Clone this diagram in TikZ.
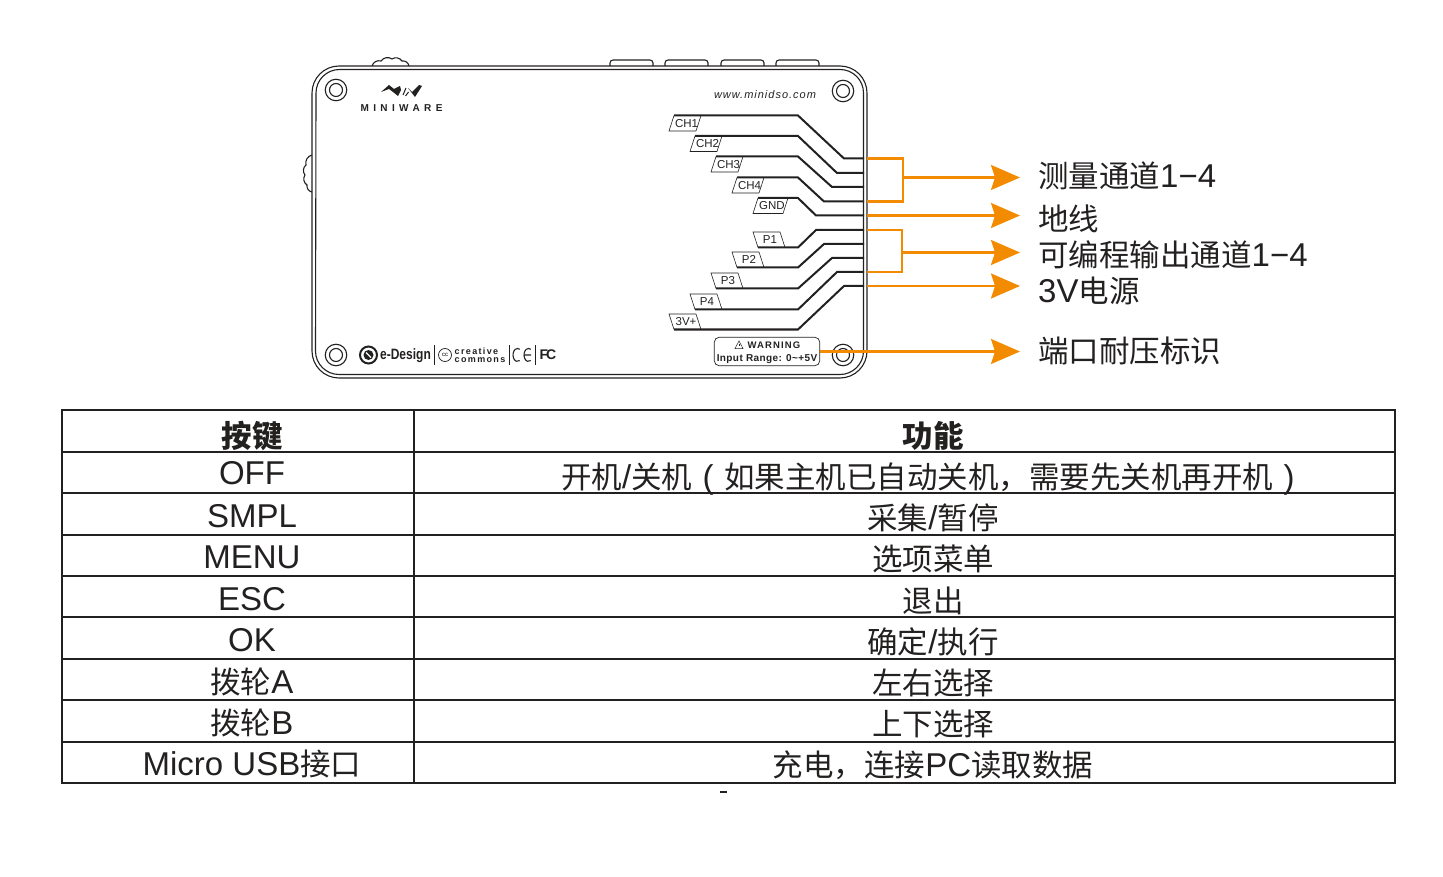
\documentclass[tikz,border=0pt]{standalone}
\usepackage{fontspec}
\setmainfont{Liberation Sans}
\newfontfamily\cjk[Scale=0.924]{Noto Sans CJK SC}
\newcommand{\zh}[1]{{\cjk #1}}
\usetikzlibrary{positioning,arrows.meta,calc}
\definecolor{arroworange}{RGB}{243,139,0}
\definecolor{inkgrey}{RGB}{35,32,32}
\begin{document}
\begin{tikzpicture}[x=1pt,y=-1pt,
    cell/.style={font=\fontsize{33}{33}\selectfont,text=inkgrey,anchor=base,inner sep=0pt},
    head/.style={font=\bfseries\fontsize{33}{33}\selectfont,text=inkgrey,anchor=base,inner sep=0pt},
    callout/.style={font=\fontsize{33}{33}\selectfont,text=inkgrey,anchor=base west,inner sep=0pt},
    tag/.style={draw=inkgrey,line width=.6pt},
    tagtext/.style={font=\fontsize{11.5}{12}\selectfont,text=inkgrey,inner sep=0pt},
    fine/.style={text=inkgrey,inner sep=0pt},
    wire/.style={draw=inkgrey,line width=2pt},
    feed/.style={draw=arroworange,line width=2.2pt},
    pointer/.style={feed,-{Stealth[length=29pt,width=25pt,inset=4pt]}},
    grid/.style={draw=inkgrey,line width=2.2pt},
    shell/.style={draw=inkgrey,line width=1.1pt},
    rule/.style={draw=inkgrey,line width=.8pt}]
\useasboundingbox (0,0) rectangle (1443,877);

% case
\draw[shell] (312,93) arc[start angle=180,end angle=270,radius=27] -- (840,66) arc[start angle=270,end angle=360,radius=27] -- (867,351) arc[start angle=0,end angle=90,radius=27] -- (339,378) arc[start angle=90,end angle=180,radius=27] -- cycle;
\draw[shell] (316,93) arc[start angle=180,end angle=270,radius=23.5] -- (840,69.5) arc[start angle=270,end angle=360,radius=23.5] -- (863.5,351) arc[start angle=0,end angle=90,radius=23.5] -- (339,374.5) arc[start angle=90,end angle=180,radius=23.5] -- cycle;
% buttons
\foreach \xa in {610,665,721,776}
  \draw[shell,rounded corners=3pt] (\xa,66) -- (\xa,60) -- (\xa+43,60) -- (\xa+43,66);
% wheels
\draw[shell] (372,66) to[bend left=45] (381,61) to[bend left=45] (392,59) to[bend left=45] (402,61) to[bend left=45] (409,66);
\draw[shell] (312,155) to[bend right=45] (306,165) to[bend right=45] (305,175) to[bend right=45] (307,185) to[bend right=45] (312,192);
% screws
\foreach \px/\py/\nm in {336/90/sa,843/91/sb,336/355/sc,843/355/sd}{
  \node[circle,shell,minimum size=21.5pt,inner sep=0pt] (\nm) at (\px,\py) {};
  \node[circle,shell,minimum size=13pt,inner sep=0pt] (\nm i) at (\px,\py) {};
}

% logo
\fill[inkgrey] (381,92) -- (389,85) -- (394,89) -- (400,86) -- (401,90) -- (398,96) -- (393,92) -- (389,89) -- cycle;
\fill[inkgrey] (408,88) -- (412,92) -- (419,85) -- (422,86) -- (415,97) -- cycle;
\draw[inkgrey,line width=1pt] (403,95) -- (406,88);
\draw[inkgrey,line width=1pt] (405.5,96) -- (408.5,92);
\node[fine,font=\bfseries\fontsize{10}{10}\selectfont\addfontfeature{LetterSpace=44}] (brand) at (401.5,108) {MINIWARE};
\node[fine,font=\itshape\fontsize{11}{11}\selectfont\addfontfeature{LetterSpace=9}] (site) at (765,94.5) {www.minidso.com};

% bottom marks
\node[circle,draw=inkgrey,line width=2pt,minimum size=17pt,inner sep=0pt] (edisc) at (368.5,355) {};
\fill[inkgrey] (368.5,355) circle (5pt);
\draw[white,line width=1.2pt] (366,352.5) -- (371,357.5);
\node[fine,font=\bfseries\fontsize{15}{16}\selectfont,xscale=.8,anchor=west] (edes) at (380,355.5) {e-Design};
\draw[rule] (434,345) -- (434,365);
\node[circle,draw=inkgrey,line width=.7pt,minimum size=13pt,inner sep=0pt,font=\fontsize{6}{6}\selectfont] (cc) at (445,355) {cc};
\node[fine,font=\bfseries\fontsize{9}{8}\selectfont\addfontfeature{LetterSpace=15},anchor=west,align=left] (ccname) at (454.5,355) {creative\\commons};
\draw[rule] (509.5,345) -- (509.5,365);
\draw[inkgrey,line width=1.1pt] (519.75,360.6) arc[start angle=60,end angle=300,x radius=4.5,y radius=6.5];
\draw[inkgrey,line width=1.1pt] (530.75,360.6) arc[start angle=60,end angle=300,x radius=4.5,y radius=6.5] (524,355) -- (531,355);
\draw[rule] (535,345) -- (535,365);
\node[fine,font=\bfseries\fontsize{14}{14}\selectfont] (fc) at (548,355) {F\kern-2pt C};

% channel wires
\foreach \tx/\ty/\lx/\ly/\tw/\nm/\txt in {
  674/115.5/844/158.5/27/cha/CH1, 695/136/837/173/27/chb/CH2, 716/156.5/832/187/27/chc/CH3,
  737/177.5/824/201.5/27/chd/CH4, 758/198/816/215.5/30/gnd/GND}{
  \coordinate (\nm a) at (\tx,\ty);
  \coordinate (\nm b) at (798,\ty);
  \coordinate (\nm c) at (\lx,\ly);
  \coordinate (\nm d) at (864,\ly);
  \coordinate (\nm o) at (867,\ly);
  \draw[wire] (\nm a) -- (\nm b) -- (\nm c) -- (\nm d);
  \draw[tag] (\tx,\ty) -- (\tx-5,\ty+15.5) -- (\tx-5+\tw,\ty+15.5) -- (\tx+\tw,\ty);
  \node[tagtext] (\nm t) at (\tx-1+\tw/2,\ty+8) {\txt};
}
% output wires
\foreach \tx/\ty/\lx/\ly/\tw/\nm/\txt in {
  758/247.5/816/230/27/pa/P1, 737/267.5/824/244/27/pb/P2, 716/288.5/832/258/27/pc/P3,
  695/309.5/837/272/27/pd/P4, 674/329.5/844/286/27/pe/3V+}{
  \coordinate (\nm a) at (\tx,\ty);
  \coordinate (\nm b) at (798,\ty);
  \coordinate (\nm c) at (\lx,\ly);
  \coordinate (\nm d) at (864,\ly);
  \coordinate (\nm o) at (867,\ly);
  \draw[wire] (\nm a) -- (\nm b) -- (\nm c) -- (\nm d);
  \draw[tag] (\tx,\ty) -- (\tx-5,\ty-15.5) -- (\tx-5+\tw,\ty-15.5) -- (\tx+\tw,\ty);
  \node[tagtext] (\nm t) at (\tx+12,\ty-8) {\txt};
}

% warning box
\node[draw=inkgrey,line width=.7pt,rounded corners=5pt,minimum width=105.5pt,minimum height=28.5pt,inner sep=0pt] (warn) at (767,351.5) {};
\node[fine,font=\bfseries\fontsize{9.5}{10}\selectfont\addfontfeature{LetterSpace=12}] (warna) at (774,345) {WARNING};
\draw[inkgrey,line width=.5pt] (735,348.5) -- (739,341) -- (743,348.5) -- cycle;
\draw[inkgrey,line width=.5pt] (739,343.5) -- (739,346);
\node[fine,font=\bfseries\fontsize{10}{10}\selectfont\addfontfeature{LetterSpace=4}] (warnb) at (767,359) {Input Range: 0\textasciitilde+5V};

% callouts
\node[callout] (la) at (1038,188) {\zh{测量通道}1−4};
\node[callout] (lb) at (1038,231) {\zh{地线}};
\node[callout] (lc) at (1038,267) {\zh{可编程输出通道}1−4};
\node[callout] (ld) at (1038,302) {3V\zh{电源}};
\node[callout] (le) at (1038,362) {\zh{端口耐压标识}};
\draw[feed] (chao) -- (903,158.5) -- (903,201.5) -- (chdo);
\draw[pointer] (903,177.5) -- (1020,177.5);
\draw[pointer] (gndo) -- (1020,215.5);
\draw[feed] (pao) -- (902,230) -- (902,272) -- (pdo);
\draw[pointer] (902,252.5) -- (1020,252.5);
\draw[pointer] (peo) -- (1020,286);
\draw[pointer] (warn.east) -- (1020,351.5);

% table
\foreach \yy in {410,452,493,535,576,617,659,700,742,783}
  \draw[grid] (61,\yy) -- (1396,\yy);
\foreach \xx in {62,414,1395}
  \draw[grid] (\xx,410) -- (\xx,783);
\foreach \ya/\yb/\ka/\kb [count=\ii] in {
  484.5/488/OFF/{\zh{开机}/\zh{关机}\hspace{10.5pt}(\hspace{10.5pt}\zh{如果主机已自动关机，需要先关机再开机}\hspace{10.5pt})\hspace{10.5pt}\null},
  527.5/529/SMPL/{\zh{采集}/\zh{暂停}},
  568.5/570/MENU/{\zh{选项菜单}},
  610.5/612/ESC/{\zh{退出}},
  651.5/653/OK/{\zh{确定}/\zh{执行}},
  693/694/{\zh{拨轮}A}/{\zh{左右选择}},
  734/735/{\zh{拨轮}B}/{\zh{上下选择}},
  775/776/{Micro USB\zh{接口}}/{\zh{充电，连接}PC\zh{读取数据}}}{
  \node[cell] (key\ii) at (252,\ya) {\ka};
  \node[cell] (fun\ii) at (933,\yb) {\kb};
}
\node[head] (hkey) at (252,447) {\zh{按键}};
\node[head] (hfun) at (933,447) {\zh{功能}};
\fill[inkgrey] (720,791) rectangle (726.5,792.5);
\end{tikzpicture}
\end{document}
